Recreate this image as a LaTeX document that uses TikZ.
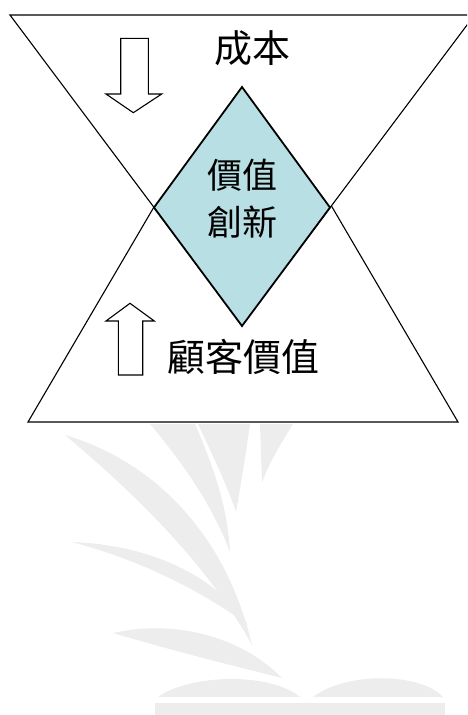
\documentclass[tikz,border=0pt]{standalone}
\usepackage{fontspec}
\newfontfamily\cjk{Noto Sans CJK TC}
\definecolor{diafill}{HTML}{B8DFE3}
\definecolor{wm}{HTML}{EDEDED}
\begin{document}
\begin{tikzpicture}[x=1pt,y=-1pt,
  tri/.style={draw=black,fill=white,line width=1.1pt,line join=miter},
  dia/.style={draw=black,fill=diafill,line width=1.8pt,line join=miter},
  arr/.style={draw=black,fill=white,line width=1.1pt,line join=miter},
  lbl/.style={font=\cjk\fontsize{38}{44}\selectfont,inner sep=0pt},
  inlbl/.style={font=\cjk\fontsize{35}{47}\selectfont,inner sep=0pt,align=center},
  wmark/.style={fill=wm,draw=none}]
\useasboundingbox (0,0) rectangle (467,715);
\clip (0,0) rectangle (467,715);
% watermark
\fill[wmark] (65,435) .. controls (150,460) and (225,530) .. (252,645) .. controls (205,560) and (130,490) .. cycle;
\fill[wmark] (72,542) .. controls (150,545) and (215,575) .. (248,625) .. controls (200,590) and (140,560) .. cycle;
\fill[wmark] (113,633) .. controls (180,618) and (245,640) .. (282,678) .. controls (230,665) and (170,650) .. cycle;
\fill[wmark] (150,424) -- (195,424) .. controls (215,470) and (228,510) .. (230,552) .. controls (210,500) and (180,460) .. cycle;
\fill[wmark] (198,424) -- (250,424) .. controls (245,460) and (240,490) .. (236,512) .. controls (225,480) and (210,450) .. cycle;
\fill[wmark] (260,424) -- (293,424) .. controls (280,445) and (268,465) .. (262,483) -- cycle;
\fill[wmark] (158,697) .. controls (190,674) and (270,672) .. (300,697) -- cycle;
\fill[wmark] (313,697) .. controls (345,672) and (420,672) .. (443,697) -- cycle;
\fill[wmark] (155,703) rectangle (445,715);
% triangles
\coordinate (ut1) at (10,15);
\coordinate (ut2) at (474.5,15);
\coordinate (ut3) at (242,325);
\coordinate (lt1) at (28,422);
\coordinate (lt2) at (458,422);
\coordinate (lt3) at (243,55);
\draw[tri] (lt1) -- (lt2) -- (lt3) -- cycle;
\draw[tri] (ut1) -- (ut2) -- (ut3) -- cycle;
% diamond
\coordinate (dT) at (242,87);
\coordinate (dL) at (154,207.5);
\coordinate (dB) at (242,326);
\coordinate (dR) at (330,207.5);
\draw[dia] (dT) -- (dR) -- (dB) -- (dL) -- cycle;
\node[inlbl] (inno) at (242,199) {價值\\創新};
% arrows
\draw[arr] (120.7,38.3) -- (148.3,38.3) -- (148.3,94) -- (161.7,94) -- (133.3,112.7) -- (106,94) -- (120.7,94) -- cycle;
\draw[arr] (118.3,375) -- (142.7,375) -- (142.7,321) -- (154.3,321) -- (130,303.3) -- (106,321) -- (118.3,321) -- cycle;
% labels
\node[lbl] (cost) at (252.5,48) {成本};
\node[lbl] (cv) at (243,357) {顧客價值};
\end{tikzpicture}
\end{document}
